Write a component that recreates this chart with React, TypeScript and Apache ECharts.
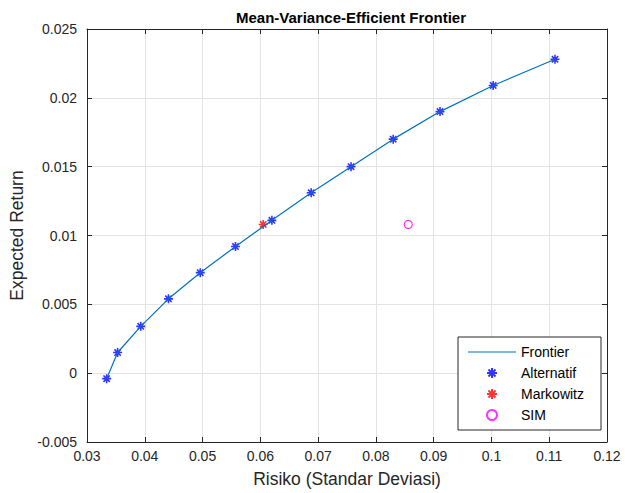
import React, { useEffect, useRef } from "react";
import * as echarts from "echarts";

const alternatifRisk = [0.0334, 0.0353, 0.0393, 0.0441, 0.0496, 0.0557, 0.0620, 0.0688, 0.0757, 0.0830, 0.0911, 0.1003, 0.1110];
const alternatifReturn = [-0.0004, 0.0015, 0.0034, 0.0054, 0.0073, 0.0092, 0.0111, 0.0131, 0.0150, 0.0170, 0.0190, 0.0209, 0.0228];
const markowitzPoint = [0.0605, 0.0108];
const simPoint = [0.0856, 0.0108];

const xMin = 0.03, xMax = 0.12, xStep = 0.01;
const yMin = -0.005, yMax = 0.025, yStep = 0.005;

const ASTERISK = "path://M0,-6L0,6M-6,0L6,0M-4.24,-4.24L4.24,4.24M-4.24,4.24L4.24,-4.24";
const LINE_ICON = "path://M0,0L48,0L48,1.2L0,1.2Z";
const FONT = "Liberation Sans, Arial, sans-serif";

export default function App() {
  const ref = useRef<HTMLDivElement>(null);
  useEffect(() => {
    if (!ref.current) return;
    const chart = echarts.init(ref.current, undefined, { renderer: "svg" });
    const pts = alternatifRisk.map((x, i) => [x, alternatifReturn[i]]);
    const fmt = (v: number) => String(+v.toFixed(3));
    const axisLine = { show: true, onZero: false, lineStyle: { color: "#262626", width: 1 } };
    const tick = { show: true, inside: true, length: 5, lineStyle: { color: "#262626" } };
    chart.setOption({
      animation: false,
      backgroundColor: "#fff",
      textStyle: { fontFamily: FONT },
      title: {
        text: "Mean-Variance-Efficient Frontier",
        left: 346, top: 5, textAlign: "center",
        textStyle: { fontFamily: FONT, fontSize: 15, fontWeight: "bold", color: "#000" },
      },
      grid: { left: 87, right: 18, top: 29, bottom: 51 },
      xAxis: [
        {
          type: "value", min: xMin, max: xMax, interval: xStep,
          name: "Risiko (Standar Deviasi)", nameLocation: "middle", nameGap: 28,
          nameTextStyle: { fontFamily: FONT, fontSize: 17.5, color: "#262626" },
          axisLine, axisTick: tick,
          axisLabel: { formatter: fmt, fontSize: 14, color: "#262626", margin: 7, fontFamily: FONT },
          splitLine: { show: true, lineStyle: { color: "#e3e3e3", width: 1 } },
        },
        {
          type: "value", position: "top", min: xMin, max: xMax, interval: xStep,
          axisLine, axisTick: tick, axisLabel: { show: false }, splitLine: { show: false },
        },
      ],
      yAxis: [
        {
          type: "value", min: yMin, max: yMax, interval: yStep,
          name: "Expected Return", nameLocation: "middle", nameGap: 48,
          nameTextStyle: { fontFamily: FONT, fontSize: 17.5, color: "#262626" },
          axisLine, axisTick: tick,
          axisLabel: { formatter: fmt, fontSize: 14, color: "#262626", margin: 10, fontFamily: FONT },
          splitLine: { show: true, lineStyle: { color: "#e3e3e3", width: 1 } },
        },
        {
          type: "value", position: "right", min: yMin, max: yMax, interval: yStep,
          axisLine, axisTick: tick, axisLabel: { show: false }, splitLine: { show: false },
        },
      ],
      legend: {
        orient: "vertical", left: 458, top: 337,
        padding: [8, 17, 8, 10],
        itemWidth: 48, itemHeight: 10, itemGap: 7,
        backgroundColor: "#fff", borderColor: "#262626", borderWidth: 1,
        textStyle: { fontFamily: FONT, fontSize: 14, color: "#000" },
        data: [
          { name: "Frontier", icon: LINE_ICON },
          "Alternatif", "Markowitz", "SIM",
        ],
      },
      series: [
        {
          name: "Frontier", type: "line", data: pts, symbol: "none",
          lineStyle: { color: "#0072BD", width: 1.2 }, itemStyle: { color: "#0072BD" },
        },
        {
          name: "Alternatif", type: "scatter", data: pts, symbol: ASTERISK, symbolSize: 9,
          itemStyle: { color: "#0000ff", borderColor: "#0000ff", borderWidth: 1.6 },
        },
        {
          name: "Markowitz", type: "scatter", data: [markowitzPoint], symbol: ASTERISK, symbolSize: 9,
          itemStyle: { color: "#ff0000", borderColor: "#ff0000", borderWidth: 1.6 },
        },
        {
          name: "SIM", type: "scatter", data: [simPoint], symbol: "circle", symbolSize: 8,
          itemStyle: { color: "#ffffff", borderColor: "#ff00ff", borderWidth: 1.2 },
        },
      ],
    });
    return () => chart.dispose();
  }, []);
  return <div ref={ref} style={{ width: 625, height: 493, position: "absolute", left: 0, top: 0 }} />;
}
